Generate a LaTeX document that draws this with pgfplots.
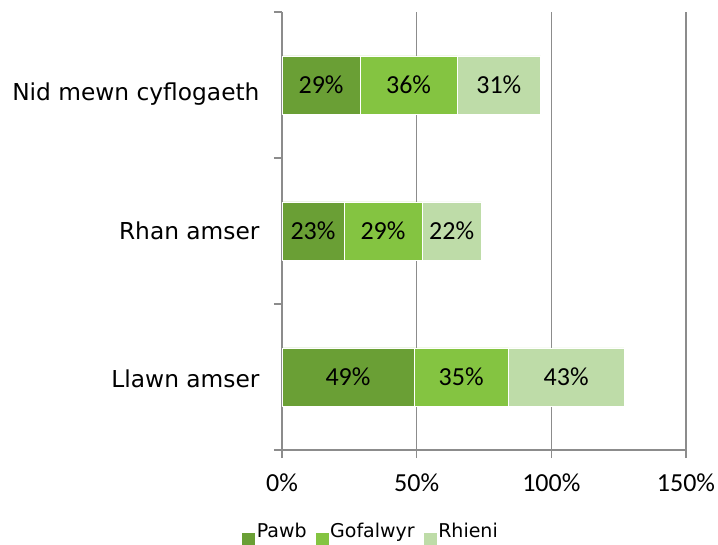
\documentclass[border=0pt]{standalone}
\usepackage{pgfplots}
\pgfplotsset{compat=1.18}
\usepackage{fontspec}
\setmainfont{DejaVu Sans}
\newfontfamily\carlito{Carlito}
\definecolor{pawb}{RGB}{106,159,53}
\definecolor{gofal}{RGB}{132,196,65}
\definecolor{rhieni}{RGB}{190,220,168}
\definecolor{gridgray}{RGB}{140,140,140}
\pgfplotsset{
  frame/.style={at={(282bp,95bp)}, anchor=south west,
  scale only axis, width=404bp, height=438bp,
  xmin=0, xmax=150, ymin=-0.5, ymax=2.5}
}
\begin{document}
\begin{tikzpicture}
\path[use as bounding box] (0,0) rectangle (718bp,545bp);
\begin{axis}[
  frame,
  xbar stacked, bar width=0.4,
  axis lines=left, axis line style={-, draw=gridgray, line width=1.5bp},
  xtick={0,50,100,150}, xticklabels={0\%,50\%,100\%,150\%},
  xticklabel style={font=\carlito\fontsize{26bp}{30bp}\selectfont, yshift=-12bp},
  xmajorgrids, grid style={draw=gridgray, line width=1.5bp},
  ytick={-0.5,0.5,1.5,2.5}, yticklabels={},
  extra y ticks={0,1,2},
  extra y tick labels={\raisebox{-2bp}[\height][\depth]{Llawn amser},Rhan amser,\raisebox{-9bp}[\height][\depth]{Nid mewn cyflogaeth}},
  extra y tick style={major tick length=0pt,
    yticklabel style={font=\fontsize{23.3bp}{28bp}\selectfont, xshift=-19bp}},
  tick align=outside, major tick length=8bp,
  tick style={draw=gridgray, line width=1.5bp},
  legend style={at={(axis description cs:0.218,-0.193)}, anchor=center,
    draw=none, fill=none, legend columns=3,
    font=\fontsize{19bp}{22bp}\selectfont,
    /tikz/every even column/.append style={column sep=7bp},
    nodes={inner sep=1bp}},
  legend image code/.code={\fill[#1] (0bp,-15bp) rectangle (14bp,-1bp);},
]
\addplot[fill=pawb, draw=white, line width=0.5bp] coordinates {(49,0) (23,1) (29,2)};
\addplot[fill=gofal, draw=white, line width=0.5bp] coordinates {(35,0) (29,1) (36,2)};
\addplot[fill=rhieni, draw=white, line width=0.5bp] coordinates {(43,0) (22,1) (31,2)};
\legend{Pawb,Gofalwyr,Rhieni}
\end{axis}
\begin{axis}[frame, hide axis]
\addplot[draw=none, mark=none,
  nodes near coords, point meta=explicit symbolic,
  every node near coord/.append style={anchor=center, font=\carlito\fontsize{26bp}{30bp}\selectfont}]
  coordinates {(24.5,0) [49\%] (11.5,1) [23\%] (14.5,2) [29\%]
               (66.5,0) [35\%] (37.5,1) [29\%] (47,2) [36\%]
               (105.5,0) [43\%] (63,1) [22\%] (80.5,2) [31\%]};
\end{axis}
\end{tikzpicture}
\end{document}
